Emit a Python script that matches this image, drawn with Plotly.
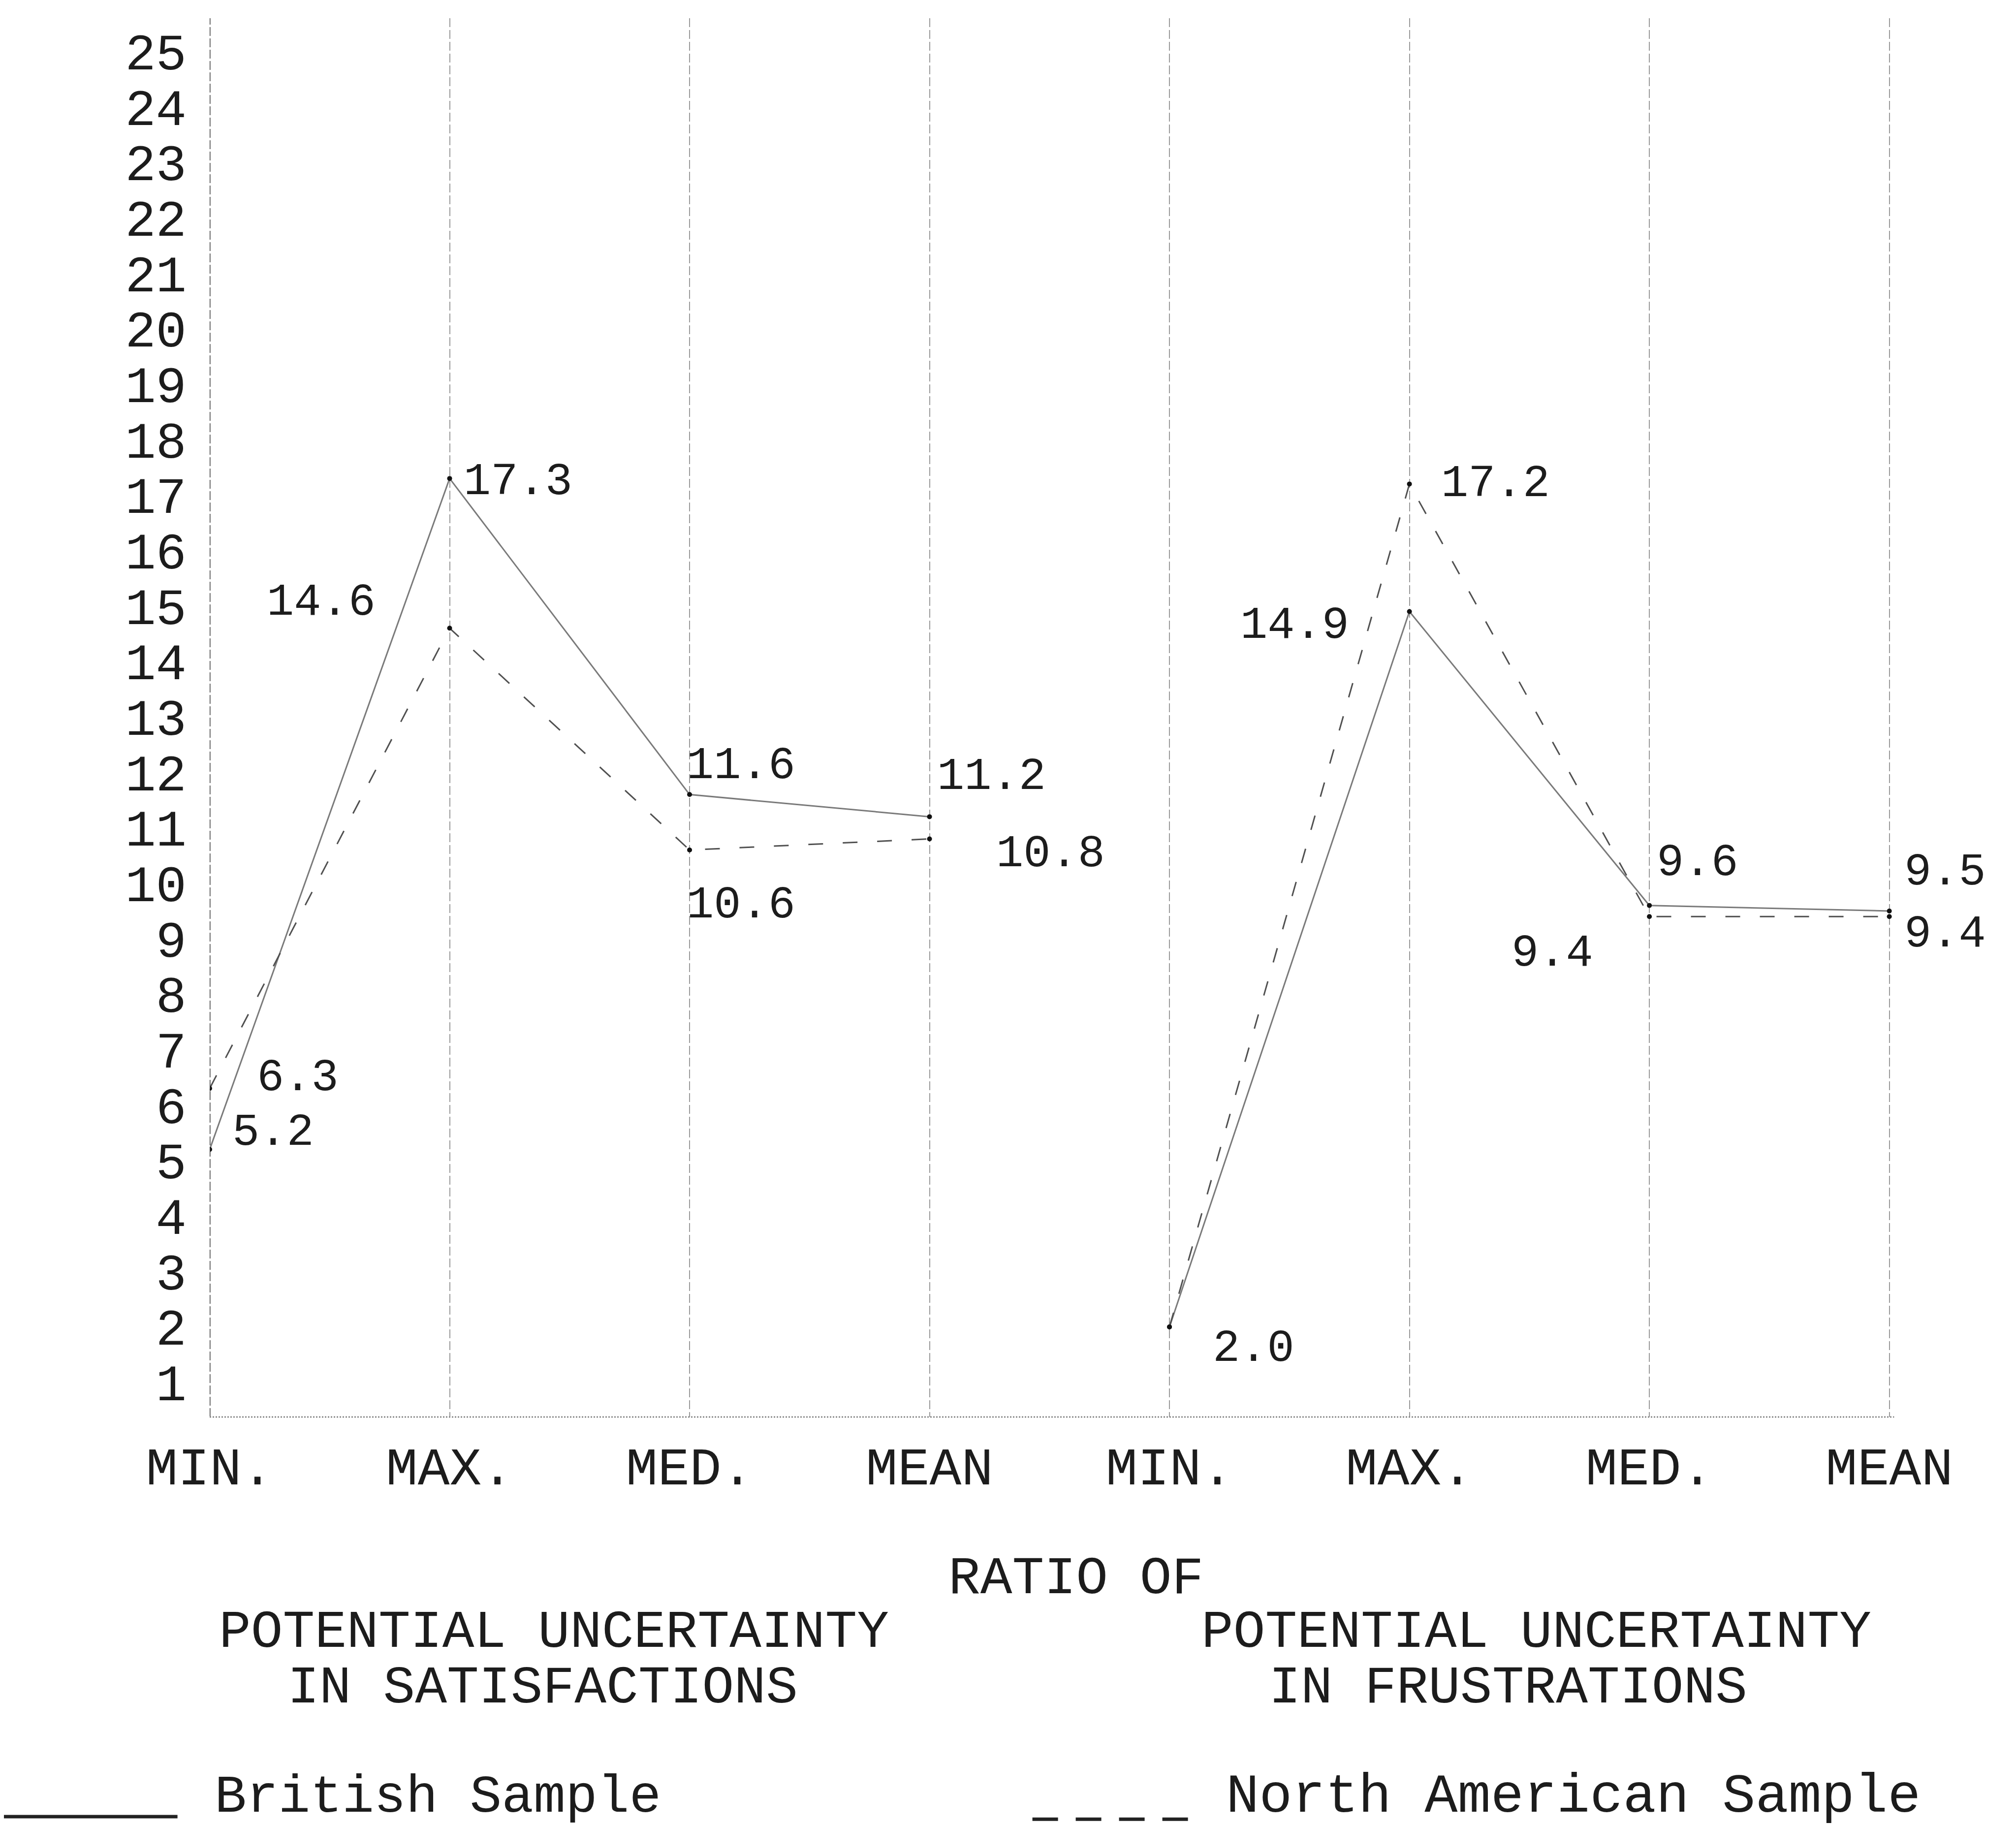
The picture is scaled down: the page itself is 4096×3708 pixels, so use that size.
import plotly.graph_objects as go

# ---------------- data ----------------
categories = ["MIN.", "MAX.", "MED.", "MEAN", "MIN.", "MAX.", "MED.", "MEAN"]
british_satisfactions = [5.2, 17.3, 11.6, 11.2]
british_frustrations = [2.0, 14.9, 9.6, 9.5]
north_american_satisfactions = [6.3, 14.6, 10.6, 10.8]
north_american_frustrations = [2.0, 17.2, 9.4, 9.4]
y_ticks = list(range(1, 26))

# ---------------- layout geometry (output px) ----------------
W, H = 4096, 3708
L, R, T, B = 418, 241, 29, 837
PW = W - L - R
PH = H - T - B
S = 2.612  # display px -> output px

def pxx(x):
    return (x - L) / PW

def pxy(y):
    return (H - B - y) / PH

FONT = "Liberation Mono"
INK = "#1c1c1c"

idx_sat = list(range(4))
idx_frus = list(range(4, 8))

fig = go.Figure()

def series(sat, frus, name, color, dash):
    xs = idx_sat + [None] + idx_frus
    ys = sat + [None] + frus
    fig.add_trace(go.Scatter(
        x=xs, y=ys, mode="lines+markers", name=name,
        line=dict(color=color, width=3, dash=dash),
        marker=dict(color="#111111", size=10),
        connectgaps=False, showlegend=False, hoverinfo="skip"))

series(british_satisfactions, british_frustrations, "British Sample", "#7a7a7a", "solid")
series(north_american_satisfactions, north_american_frustrations,
       "North American Sample", "#505050", "30px,40px")

# ---------------- value labels (style offsets in display px) ----------------
brit_offsets = [("left", 17, 13), ("left", 10, -3), ("left", -3, 22), ("left", 5, 31),
                ("left", 33, -17), ("right", -46, -11), ("left", 5, 33), ("left", 11, 30)]
na_offsets = [("left", 36, 8), ("right", -57, 20), ("left", -3, -43), ("left", 51, -12),
              None, ("left", 24, 0), ("right", -43, -29), ("left", 11, -14)]

annotations = []

def add_labels(values, offsets):
    for i, (v, off) in enumerate(zip(values, offsets)):
        if off is None:
            continue
        anchor, dx, dy = off
        annotations.append(dict(
            x=i, y=v, xref="x", yref="y", text=f"{v:.1f}", showarrow=False,
            xanchor=anchor, yanchor="middle", xshift=dx * S, yshift=dy * S,
            font=dict(family=FONT, size=92, color=INK)))

add_labels(british_satisfactions + british_frustrations, brit_offsets)
add_labels(north_american_satisfactions + north_american_frustrations, na_offsets)

# ---------------- captions below the chart ----------------
def cap(text, cx, cy, size=108, anchor="center"):
    annotations.append(dict(
        x=pxx(cx * S), y=pxy(cy * S), xref="paper", yref="paper", text=text,
        showarrow=False, xanchor=anchor, yanchor="middle",
        font=dict(family=FONT, size=size, color=INK)))

cap("RATIO OF", 834, 1225)
cap("POTENTIAL UNCERTAINTY", 428, 1267)
cap("IN SATISFACTIONS", 419, 1310)
cap("POTENTIAL UNCERTAINTY", 1192, 1267)
cap("IN FRUSTRATIONS", 1170, 1310)
cap("British Sample", 163, 1395, anchor="left")
cap("North American Sample", 950, 1395, size=112, anchor="left")

shapes = [
    # y-axis (darker dashed vertical at MIN of satisfactions)
    dict(type="line", xref="x", yref="paper", x0=0, x1=0, y0=0, y1=1,
         line=dict(color="#3a3a3a", width=3, dash="18px,5px")),
    # dotted baseline
    dict(type="line", xref="x", yref="paper", x0=0, x1=7.02, y0=0, y1=0,
         line=dict(color="#8a8a8a", width=3, dash="dot")),
    # legend samples
    dict(type="line", xref="paper", yref="paper",
         x0=pxx(0), x1=pxx(135 * S), y0=pxy(1410 * S), y1=pxy(1410 * S),
         line=dict(color="#222222", width=7)),
    dict(type="line", xref="paper", yref="paper",
         x0=pxx(800 * S), x1=pxx(925 * S), y0=pxy(1412 * S), y1=pxy(1412 * S),
         line=dict(color="#222222", width=7, dash="52px,36px")),
]

fig.update_layout(
    width=W, height=H,
    margin=dict(l=L, r=R, t=T, b=B, autoexpand=False),
    paper_bgcolor="white", plot_bgcolor="white",
    showlegend=False,
    annotations=annotations,
    shapes=shapes,
    xaxis=dict(
        range=[0, 7.05], tickmode="array", tickvals=list(range(len(categories))),
        ticktext=categories, showgrid=True, gridcolor="#9a9a9a", gridwidth=2,
        griddash="18px,6px", zeroline=False, showline=False, ticks="",
        ticklabelstandoff=28,
        tickfont=dict(family=FONT, size=108, color=INK)),
    yaxis=dict(
        range=[0.375, 25.6], tickmode="array", tickvals=y_ticks,
        ticktext=[str(t) for t in y_ticks], showgrid=False, zeroline=False,
        showline=False, ticks="", ticklabelstandoff=46,
        tickfont=dict(family=FONT, size=104, color=INK)),
)

fig.write_html("out.html")
